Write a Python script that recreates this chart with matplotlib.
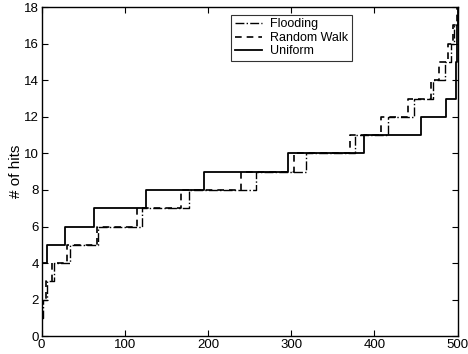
import matplotlib
matplotlib.use('Agg')
import matplotlib.pyplot as plt

# step positions (x where the count jumps) and the count after each jump
flood_x = [0, 2, 6, 15, 34, 68, 120, 177, 258, 318, 376, 416, 448, 470, 485, 492, 496, 500]
flood_y = [1, 2, 3, 4, 5, 6, 7, 8, 9, 10, 11, 12, 13, 14, 15, 16, 17, 18]

walk_x = [0, 1, 5, 13, 31, 66, 114, 167, 240, 303, 370, 408, 440, 468, 478, 488, 494, 499]
walk_y = [1, 2, 3, 4, 5, 6, 7, 8, 9, 10, 11, 12, 13, 14, 15, 16, 17, 18]

unif_x = [0, 1, 6, 28, 63, 126, 195, 296, 387, 456, 486, 498, 498.5, 499, 499.5, 500]
unif_y = [3, 4, 5, 6, 7, 8, 9, 10, 11, 12, 13, 14, 15, 16, 17, 18]

plt.rcParams['font.family'] = ['Liberation Sans', 'DejaVu Sans']

fig = plt.figure(figsize=(4.68, 3.54), dpi=100)
ax = fig.add_axes([0.089, 0.05, 0.889, 0.93])

ax.step(flood_x, flood_y, where='post', color='black', linestyle='-.', linewidth=1.0, label='Flooding')
ax.step(walk_x, walk_y, where='post', color='black', linestyle=(0, (4, 3)), linewidth=1.2, label='Random Walk')
ax.step(unif_x, unif_y, where='post', color='black', linestyle='-', linewidth=1.3, label='Uniform')

ax.set_xlim(0, 500)
ax.set_ylim(0, 18)
ax.set_xticks([0, 100, 200, 300, 400, 500])
ax.set_yticks(range(0, 19, 2))
ax.tick_params(direction='in', top=True, right=True, labelsize=9.5, length=4, pad=2)
for s in ax.spines.values():
    s.set_linewidth(1.0)
ax.set_ylabel('# of hits', fontsize=11, labelpad=1)

leg = ax.legend(loc='upper left', bbox_to_anchor=(0.455, 0.977), fontsize=9, frameon=True,
                fancybox=False, edgecolor='black', handlelength=2.2, handletextpad=0.6,
                borderpad=0.3, labelspacing=0.12, borderaxespad=0)
leg.get_frame().set_linewidth(0.8)

plt.savefig('out.png', dpi=100)
plt.close()
